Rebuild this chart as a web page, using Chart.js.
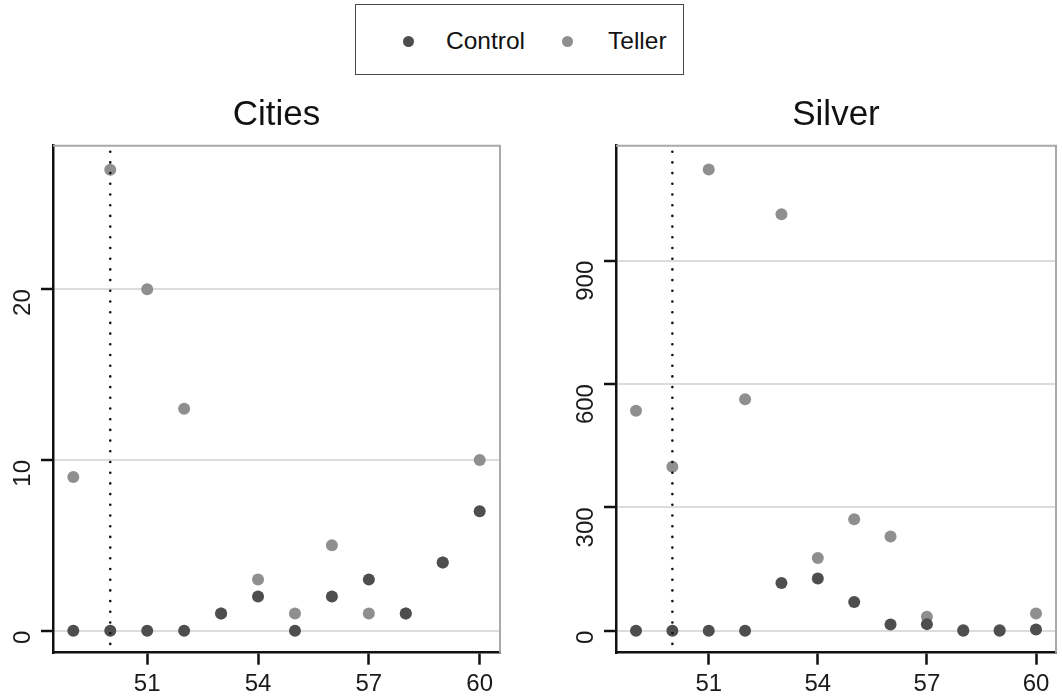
<!DOCTYPE html>
<html>
<head>
<meta charset="utf-8">
<title>Cities and Silver</title>
<script src="https://cdn.jsdelivr.net/npm/chart.js@4.4.1/dist/chart.umd.min.js"></script>
<style>
  html, body { margin: 0; padding: 0; background: #ffffff; }
  body {
    width: 1062px; height: 698px; position: relative; overflow: hidden;
    font-family: 'Liberation Sans', Arial, Helvetica, sans-serif;
  }
  .panel { position: absolute; top: 80px; width: 531px; height: 618px; }
  #panelLeft { left: 0; }
  #panelRight { left: 531px; }
  #legend {
    position: absolute; left: 355px; top: 4px; width: 327px; height: 69px;
    border: 1.5px solid #4a4a4a; background: #fff;
  }
  #legend .dot { position: absolute; width: 11px; height: 11px; border-radius: 50%; top: 31px; }
  #legend .lab { position: absolute; top: 22px; font-size: 24.5px; line-height: 28px; color: #111; white-space: nowrap; }
</style>
</head>
<body>
<div id="legend"></div>
<div class="panel" id="panelLeft"><canvas id="cities" width="531" height="618"></canvas></div>
<div class="panel" id="panelRight"><canvas id="silver" width="531" height="618"></canvas></div>

<script>
// Years on the horizontal axis (19xx)
const years = [49, 50, 51, 52, 53, 54, 55, 56, 57, 58, 59, 60];

// Series
const seriesNames  = ['Control', 'Teller'];
const seriesColors = ['#4e4e4e', '#8f8f8f'];

const citiesControl = [0, 0, 0, 0, 1, 2, 0, 2, 3, 1, 4, 7];
const citiesTeller  = [9, 27, 20, 13, 1, 3, 1, 5, 1, 1, 4, 10];

const silverControl = [0, 0, 0, 0, 116, 127, 70, 15, 16, 0, 0, 3];
const silverTeller  = [535, 399, 1122, 563, 1013, 177, 271, 229, 34, 2, 2, 42];

// Tick labels
const xTicks       = [51, 54, 57, 60];
const citiesYTicks = [0, 10, 20];
const silverYTicks = [0, 300, 600, 900];

// Reference year marked with a dotted vertical line
const refYear = 50;

const FONT = "'Liberation Sans', Arial, Helvetica, sans-serif";

// Shared legend above both panels
(function buildLegend() {
  const box = document.getElementById('legend');
  const dotLeft = [47, 205.5];
  const labLeft = [90, 252];
  seriesNames.forEach((name, i) => {
    const d = document.createElement('span');
    d.className = 'dot';
    d.style.left = dotLeft[i] + 'px';
    d.style.background = seriesColors[i];
    const t = document.createElement('span');
    t.className = 'lab';
    t.style.left = labLeft[i] + 'px';
    t.textContent = name;
    box.appendChild(d);
    box.appendChild(t);
  });
})();

// Grey top/right frame and the dotted reference line
const framePlugin = {
  id: 'frameAndRef',
  beforeDatasetsDraw(chart) {
    const { ctx, chartArea: a } = chart;
    ctx.save();
    ctx.strokeStyle = '#a9a9a9';
    ctx.lineWidth = 2;
    ctx.beginPath();
    ctx.moveTo(a.left, a.top);
    ctx.lineTo(a.right, a.top);
    ctx.lineTo(a.right, a.bottom);
    ctx.stroke();
    ctx.restore();
  },
  afterDatasetsDraw(chart) {
    const { ctx, chartArea: a, scales } = chart;
    const x = scales.x.getPixelForValue(refYear);
    ctx.save();
    ctx.strokeStyle = '#111';
    ctx.lineWidth = 2.6;
    ctx.lineCap = 'round';
    ctx.setLineDash([0, 10.7]);
    ctx.beginPath();
    ctx.moveTo(x, a.top + 6);
    ctx.lineTo(x, a.bottom - 2);
    ctx.stroke();
    ctx.restore();
  }
};

function makePanel(canvasId, title, control, teller, yMin, yMax, yTicks, yAxisWidth, rightPad) {
  const sets = [control, teller].map((vals, i) => ({
    label: seriesNames[i],
    data: years.map((yr, k) => ({ x: yr, y: vals[k] })),
    backgroundColor: seriesColors[i],
    borderWidth: 0,
    pointRadius: 6,
    pointHoverRadius: 6
  }));

  return new Chart(document.getElementById(canvasId), {
    type: 'scatter',
    data: { datasets: sets },
    options: {
      responsive: false,
      animation: false,
      devicePixelRatio: 1,
      layout: { padding: { left: 0, right: rightPad, top: 0, bottom: 0 } },
      plugins: {
        legend: { display: false },
        tooltip: { enabled: false },
        title: {
          display: true,
          fullSize: false,
          text: title,
          color: '#111',
          font: { family: FONT, size: 35, weight: 'normal' },
          padding: { top: 14, bottom: 9.7 }
        }
      },
      scales: {
        x: {
          type: 'linear',
          min: 48.45,
          max: 60.55,
          afterBuildTicks: s => { s.ticks = xTicks.map(v => ({ value: v })); },
          afterFit: s => { s.height = 45.3; },
          grid: { drawOnChartArea: false, drawTicks: true, tickLength: 12, tickWidth: 2.5, tickColor: '#111' },
          border: { display: true, color: '#111', width: 2.5 },
          ticks: {
            color: '#1a1a1a', padding: 5, autoSkip: false, maxRotation: 0, minRotation: 0,
            font: { family: FONT, size: 24 }
          }
        },
        y: {
          type: 'linear',
          min: yMin,
          max: yMax,
          afterBuildTicks: s => { s.ticks = yTicks.map(v => ({ value: v })); },
          afterFit: s => { s.width = yAxisWidth; },
          grid: { color: '#dcdcdc', lineWidth: 2, drawTicks: true, tickLength: 12, tickWidth: 2.5, tickColor: '#111' },
          border: { display: true, color: '#111', width: 2.5 },
          ticks: {
            color: '#1a1a1a', padding: 18, autoSkip: false, minRotation: 90, maxRotation: 90,
            font: { family: FONT, size: 24 }
          }
        }
      }
    },
    plugins: [framePlugin]
  });
}

makePanel('cities', 'Cities', citiesControl, citiesTeller, -1.29, 28.41, citiesYTicks, 53, 31);
makePanel('silver', 'Silver', silverControl, silverTeller, -53.5, 1179.7, silverYTicks, 85, 1);
</script>
</body>
</html>
